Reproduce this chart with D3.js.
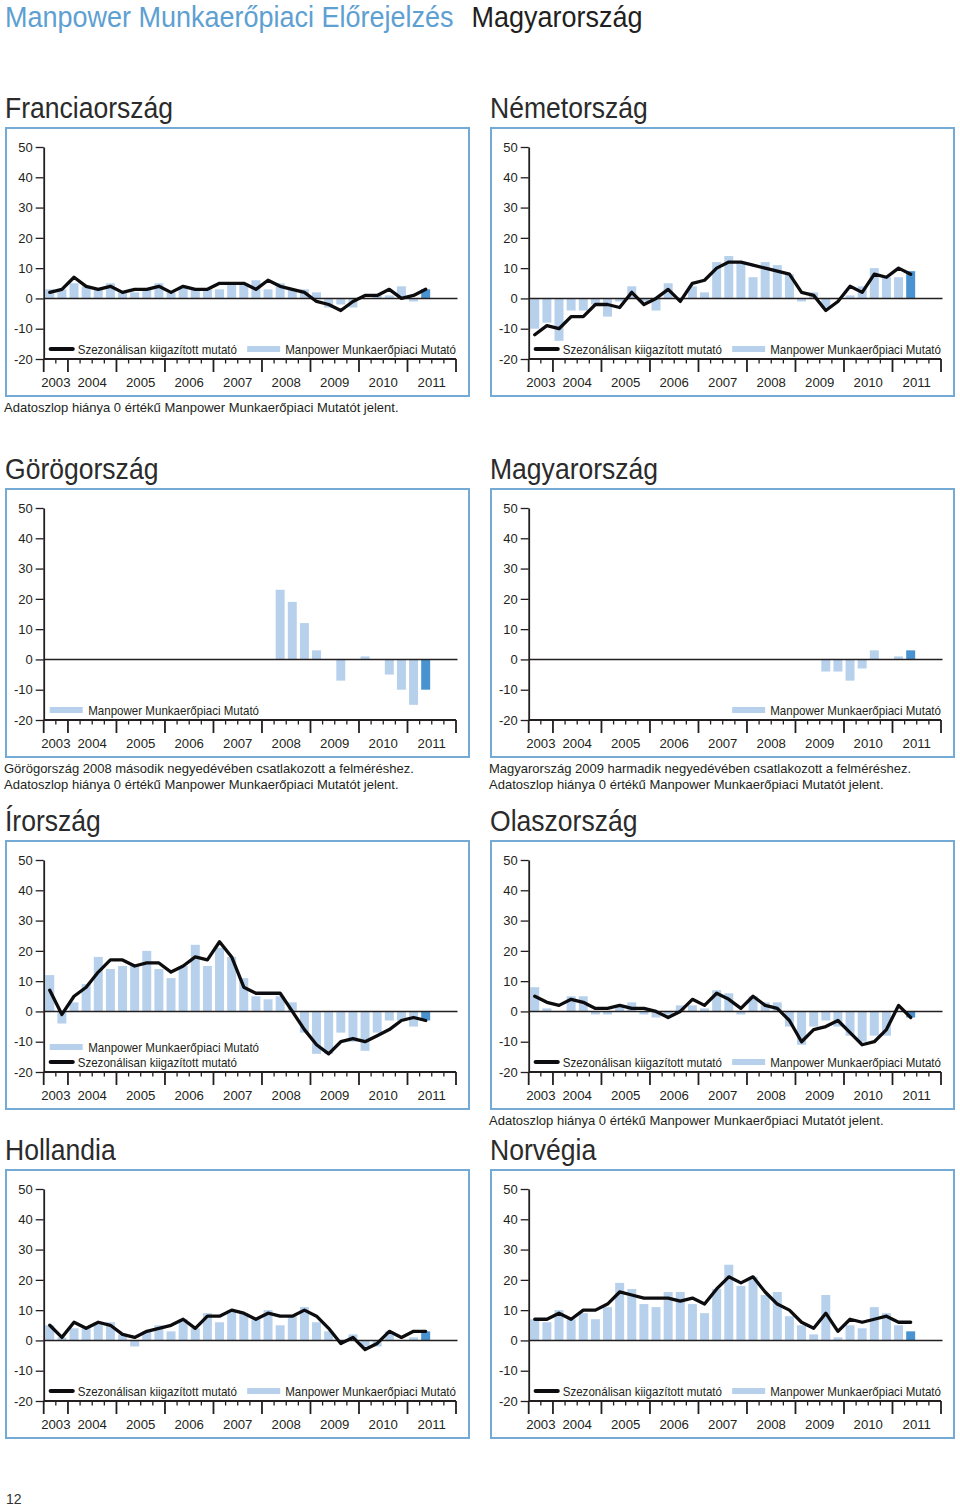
<!DOCTYPE html>
<html><head><meta charset="utf-8">
<script src="https://cdn.jsdelivr.net/npm/d3@7"></script>
<style>
html,body{margin:0;padding:0;background:#fff;}
svg{display:block;font-family:"Liberation Sans",Arial,Helvetica,sans-serif;}
</style></head><body>
<svg id="c" width="960" height="1508"></svg>
<script>
// ---------- categories ----------
const quarters = ["2003Q3","2003Q4",
  "2004Q1","2004Q2","2004Q3","2004Q4","2005Q1","2005Q2","2005Q3","2005Q4",
  "2006Q1","2006Q2","2006Q3","2006Q4","2007Q1","2007Q2","2007Q3","2007Q4",
  "2008Q1","2008Q2","2008Q3","2008Q4","2009Q1","2009Q2","2009Q3","2009Q4",
  "2010Q1","2010Q2","2010Q3","2010Q4","2011Q1","2011Q2","2011Q3","2011Q4"];
const years = ["2003","2004","2005","2006","2007","2008","2009","2010","2011"];
const yTicks = [-20,-10,0,10,20,30,40,50];
const N = null;

// ---------- series (2003Q3 .. 2011Q2) ----------
const franceBars  = [3,3,5,4,3,5,2,2,3,5,2,4,3,3,3,5,5,6,3,5,3,3,2,-3,-2,-3,0,1,1,4,-1,3];
const franceLine  = [2,3,7,4,3,4,2,3,3,4,2,4,3,3,5,5,5,3,6,4,3,2,-1,-2,-4,-1,1,1,3,0,1,3];
const germanyBars = [-10,-8,-14,-4,-4,-2,-6,-1,4,-1,-4,5,0,4,2,12,14,12,7,12,11,8,-1,2,-3,0,1,4,10,7,7,9];
const germanyLine = [-12,-9,-10,-6,-6,-2,-2,-3,2,-2,0,3,-1,5,6,10,12,12,11,10,9,8,2,1,-4,-1,4,2,8,7,10,8];
const greeceBars  = [N,N,N,N,N,N,N,N,N,N,N,N,N,N,N,N,N,N,N,23,19,12,3,0,-7,0,1,0,-5,-10,-15,-10];
const hungaryBars = [N,N,N,N,N,N,N,N,N,N,N,N,N,N,N,N,N,N,N,N,N,N,N,N,-4,-4,-7,-3,3,0,1,3];
const irelandBars = [12,-4,3,9,18,14,15,15,20,14,11,15,22,15,21,18,11,5,4,5,3,-7,-14,-14,-7,-10,-13,-7,-3,-3,-5,-3];
const irelandLine = [7,-1,5,8,13,17,17,15,16,16,13,15,18,17,23,18,8,6,6,6,0,-6,-11,-14,-10,-9,-10,-8,-6,-3,-2,-3];
const italyBars   = [8,1,0,5,5,-1,-1,2,3,-1,-2,-1,2,2,1,7,6,-1,5,3,3,-5,-11,-5,-3,-5,-8,-10,-8,-8,0,-2];
const italyLine   = [5,3,2,4,3,1,1,2,1,1,0,-2,0,4,2,6,4,1,5,2,1,-3,-10,-6,-5,-3,-7,-11,-10,-6,2,-2];
const nlBars      = [5,1,4,4,6,6,2,-2,3,5,3,7,4,9,6,10,9,7,10,5,8,11,6,3,0,2,-2,-2,3,0,1,3];
const nlLine      = [5,1,6,4,6,5,2,1,3,4,5,7,4,8,8,10,9,7,9,8,8,10,8,4,-1,1,-3,-1,3,1,3,3];
const norwayBars  = [7,6,10,7,9,7,11,19,17,12,11,16,16,12,9,17,25,18,21,15,16,8,5,2,15,1,5,4,11,9,5,3];
const norwayLine  = [7,7,9,7,10,10,12,16,15,14,14,14,13,14,12,17,21,19,21,16,12,10,6,4,9,3,7,6,7,8,6,6];

// ---------- texts ----------
const pageTitle = "Manpower Munkaerőpiaci Előrejelzés";
const pageCountry = "Magyarország";
const lineLabel = "Szezonálisan kiigazított mutató";
const barLabel = "Manpower Munkaerőpiaci Mutató";
const zeroNote = "Adatoszlop hiánya 0 értékű Manpower Munkaerőpiaci Mutatót jelent.";
const greeceNote = "Görögország 2008 második negyedévében csatlakozott a felméréshez.";
const hungaryNote = "Magyarország 2009 harmadik negyedévében csatlakozott a felméréshez.";
const pageNumber = "12";

const panels = [
  {title:"Franciaország", bars:franceBars, line:franceLine, legend:"pair", col:0, row:0, notes:[zeroNote]},
  {title:"Németország", bars:germanyBars, line:germanyLine, legend:"pair", col:1, row:0, notes:[]},
  {title:"Görögország", bars:greeceBars, line:null, legend:"barLeft", col:0, row:1, notes:[greeceNote, zeroNote]},
  {title:"Magyarország", bars:hungaryBars, line:null, legend:"barRight", col:1, row:1, notes:[hungaryNote, zeroNote]},
  {title:"Írország", bars:irelandBars, line:irelandLine, legend:"stack", col:0, row:2, notes:[]},
  {title:"Olaszország", bars:italyBars, line:italyLine, legend:"pair", col:1, row:2, notes:[zeroNote]},
  {title:"Hollandia", bars:nlBars, line:nlLine, legend:"pair", col:0, row:3, notes:[]},
  {title:"Norvégia", bars:norwayBars, line:norwayLine, legend:"pair", col:1, row:3, notes:[]}
];

// ---------- layout / style ----------
const colX = [6, 491];
const rowY = [128, 489, 841, 1170];
const boxW = 463, boxH = 268;
const C = {
  barLight:"#b7d1ec", barDark:"#4a93d1", border:"#74aad6", ink:"#231f20",
  titleBlue:"#5ea0d2", line:"#0d0d0f"
};
const TITLE_SX = 0.915, LEG_SX = 0.925;

const svg = d3.select("#c");

function stext(parent, x, y, str, size, sx, anchor, fill){
  const t = parent.append("text")
    .attr("transform", `translate(${x},${y}) scale(${sx},1)`)
    .attr("font-size", size)
    .attr("fill", fill || C.ink)
    .attr("text-anchor", anchor || "start")
    .text(str);
  return t;
}

// page title
const tt = stext(svg, 5, 27, pageTitle, 29.5, TITLE_SX, "start", C.titleBlue);
const ttw = tt.node().getComputedTextLength() * TITLE_SX;
stext(svg, 5 + ttw + 18, 27, pageCountry, 29.5, TITLE_SX, "start", C.ink);

panels.forEach(p => {
  const bx = colX[p.col], by = rowY[p.row];
  const g = svg.append("g");
  // title
  stext(g, bx - 1, by - 10, p.title, 30, 0.885, "start", "#2b2b2b");
  // box
  g.append("rect").attr("x", bx).attr("y", by).attr("width", boxW).attr("height", boxH)
    .attr("fill", "#fff").attr("stroke", C.border).attr("stroke-width", 2);

  const x0 = bx + 37.7, x1 = bx + 450;
  const x = d3.scaleBand().domain(quarters).range([x0, x1]).paddingInner(0.26).paddingOuter(0.13);
  const y = d3.scaleLinear().domain([-20, 50]).range([by + 231, by + 19]);
  const step = x.step(), pad = step * 0.13;
  const boundary = i => (i < quarters.length ? x(quarters[i]) - pad : x1);

  // bars
  const bd = p.bars.map((v, i) => ({q: quarters[i], v, i})).filter(d => d.v !== null && d.v !== 0);
  g.append("g").selectAll("rect").data(bd).join("rect")
    .attr("x", d => x(d.q)).attr("width", x.bandwidth())
    .attr("y", d => y(Math.max(0, d.v)))
    .attr("height", d => Math.abs(y(d.v) - y(0)))
    .attr("fill", d => d.i === p.bars.length - 1 ? C.barDark : C.barLight);

  // zero line
  g.append("line").attr("x1", x0).attr("x2", x1 + 1.5).attr("y1", y(0)).attr("y2", y(0))
    .attr("stroke", C.ink).attr("stroke-width", 1.5);

  // series line
  if (p.line) {
    const ld = p.line.map((v, i) => ({q: quarters[i], v}));
    g.append("path").datum(ld)
      .attr("d", d3.line().defined(d => d.v !== null)
        .x(d => x(d.q) + x.bandwidth() / 2).y(d => y(d.v)))
      .attr("fill", "none").attr("stroke", C.line).attr("stroke-width", 3.3)
      .attr("stroke-linejoin", "round").attr("stroke-linecap", "round");
  }

  // y axis
  const ya = g.append("g").attr("transform", `translate(${x0},0)`)
    .call(d3.axisLeft(y).tickValues(yTicks).tickFormat(d => String(d))
      .tickSize(8).tickSizeOuter(0).tickPadding(3));
  ya.select(".domain").attr("stroke", C.ink).attr("stroke-width", 1.8);
  ya.selectAll(".tick line").attr("stroke", C.ink).attr("stroke-width", 1.3);
  ya.selectAll(".tick text").attr("font-size", 13).attr("fill", C.ink)
    .attr("font-family", "Liberation Sans, Arial, sans-serif");

  // x axis
  const yb = y(-20);
  g.append("line").attr("x1", x0).attr("x2", x1).attr("y1", yb).attr("y2", yb)
    .attr("stroke", C.ink).attr("stroke-width", 1.8);
  const isMajor = i => i === 0 || i === quarters.length || quarters[i].endsWith("Q1");
  const bIdx = d3.range(quarters.length + 1);
  g.append("g").selectAll("line").data(bIdx).join("line")
    .attr("x1", i => boundary(i)).attr("x2", i => boundary(i))
    .attr("y1", yb)
    .attr("y2", i => isMajor(i) ? yb + 13 : yb + 4.5)
    .attr("stroke", C.ink)
    .attr("stroke-width", i => isMajor(i) ? 1.8 : 1.3);
  years.forEach(yr => {
    const idx = quarters.map((q, i) => q.startsWith(yr) ? i : -1).filter(i => i >= 0);
    const cx = (boundary(idx[0]) + boundary(idx[idx.length - 1] + 1)) / 2;
    g.append("text").attr("x", cx).attr("y", by + 259).attr("text-anchor", "middle")
      .attr("font-size", 13.2).attr("fill", C.ink).text(yr);
  });

  // legend
  const lc = by + 221;
  function lineLeg(yc){
    g.append("line").attr("x1", x0 + 7).attr("x2", x0 + 29).attr("y1", yc).attr("y2", yc)
      .attr("stroke", C.line).attr("stroke-width", 4.2).attr("stroke-linecap", "round");
    stext(g, x0 + 34, yc + 4.5, lineLabel, 12.5, LEG_SX, "start");
  }
  function barLegLeft(yc){
    g.append("rect").attr("x", x0 + 6).attr("y", yc - 3).attr("width", 33).attr("height", 6).attr("fill", C.barLight);
    stext(g, x0 + 44.5, yc + 4.5, barLabel, 12.5, LEG_SX, "start");
  }
  function barLegRight(yc){
    const t = stext(g, x1, yc + 4.5, barLabel, 12.5, LEG_SX, "end");
    const w = t.node().getComputedTextLength() * LEG_SX;
    g.append("rect").attr("x", x1 - w - 5 - 33).attr("y", yc - 3).attr("width", 33).attr("height", 6).attr("fill", C.barLight);
  }
  if (p.legend === "pair") { lineLeg(lc); barLegRight(lc); }
  else if (p.legend === "barLeft") { barLegLeft(lc); }
  else if (p.legend === "barRight") { barLegRight(lc); }
  else if (p.legend === "stack") { barLegLeft(lc - 15); lineLeg(lc); }

  // notes
  p.notes.forEach((n, k) => {
    g.append("text").attr("x", bx - 2).attr("y", by + boxH + 16 + 16 * k)
      .attr("font-size", 13).attr("fill", C.ink).text(n);
  });
});

svg.append("text").attr("x", 6).attr("y", 1504).attr("font-size", 14).attr("fill", "#333").text(pageNumber);
</script>
</body></html>
